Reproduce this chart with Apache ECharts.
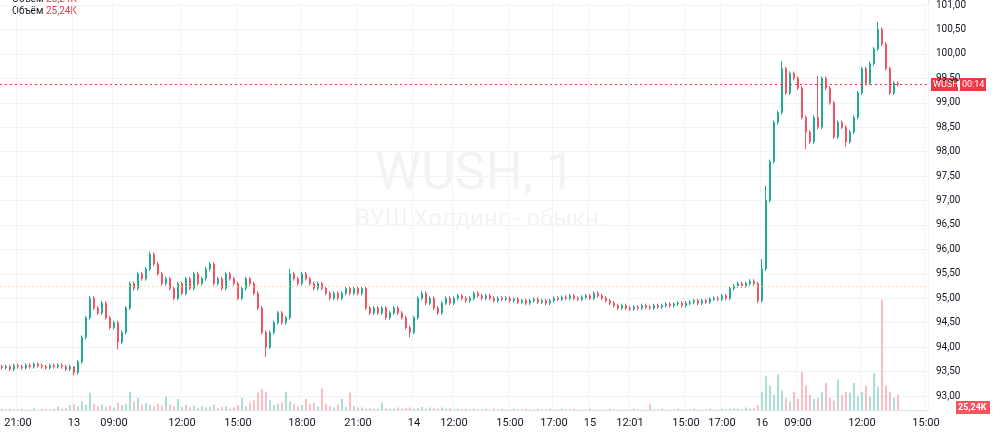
<!DOCTYPE html>
<html><head><meta charset="utf-8">
<script src="https://cdn.jsdelivr.net/npm/echarts@6/dist/echarts.min.js"></script>
<style>html,body{margin:0;padding:0;background:#fff}#c{width:1000px;height:437px}</style>
</head><body><div id="c"></div>
<script>
const closes = [93.58,93.6,93.55,93.62,93.6,93.58,93.63,93.6,93.65,93.62,93.6,93.58,93.62,93.6,93.63,93.6,93.55,93.6,
93.48,93.7,94.2,94.6,95.0,94.8,94.7,94.9,94.6,94.4,94.5,94.1,94.3,94.8,95.3,95.2,95.5,95.4,95.6,95.9,95.7,95.5,
95.3,95.4,95.2,95.0,95.3,95.1,95.4,95.2,95.5,95.3,95.4,95.6,95.7,95.3,95.4,95.2,95.5,95.4,95.3,95.0,
95.2,95.4,95.3,95.1,94.8,94.3,94.0,94.3,94.5,94.7,94.5,94.6,95.5,95.4,95.3,95.5,95.4,95.3,95.2,95.3,
95.2,95.1,95.0,95.1,95.0,95.1,95.2,95.1,95.2,95.1,95.2,94.8,94.7,94.8,94.7,94.8,94.6,94.7,94.8,94.7,
94.6,94.4,94.3,94.6,95.0,95.1,94.9,95.0,94.8,94.7,94.9,95.0,94.9,95.0,95.05,95.0,94.95,95.0,95.1,95.05,
95.0,95.05,95.0,94.95,95.0,94.98,95.0,94.95,94.98,94.92,94.95,94.9,94.95,94.98,94.92,94.95,94.9,94.95,95.0,94.98,
95.02,95.0,95.05,95.0,94.98,95.02,95.05,95.0,95.1,95.05,95.0,94.95,94.9,94.85,94.8,94.85,94.8,94.78,94.82,94.8,
94.85,94.82,94.8,94.85,94.82,94.85,94.88,94.85,94.88,94.9,94.85,94.9,94.92,94.95,94.9,94.95,94.92,94.98,95.0,94.98,
95.05,95.0,95.2,95.25,95.3,95.25,95.3,95.35,95.3,94.95,
95.6,97.0,97.8,98.6,98.8,99.7,99.2,99.6,99.5,99.3,98.7,98.4,98.2,98.7,98.5,99.5,99.3,99.0,98.3,98.6,
98.5,98.2,98.4,98.7,99.2,99.7,99.4,99.8,100.1,100.5,100.2,99.7,99.2,99.4,99.38];
const openFirst = 93.6;
const highOverrides = {18:93.5,22:95.05,37:95.95,52:95.75,72:95.6,195:99.85,219:100.65,190:95.8,191:97.3,204:99.55};
const lowOverrides = {18:93.42,29:93.95,66:93.8,102:94.2,189:94.9,201:98.05,211:98.1,231:99.05};
const volumes = [2,1,2,1,1,2,1,1,3,1,2,1,1,2,6,2,3,8,
10,6,14,8,28,10,6,9,5,7,4,12,8,10,30,14,20,9,12,8,6,10,
7,22,9,6,18,5,8,4,7,3,6,4,5,9,3,5,6,2,4,8,
20,6,12,16,28,34,30,16,8,10,12,30,14,10,6,8,18,10,12,6,
35,10,6,4,9,18,5,28,6,4,4,2,3,2,2,12,3,2,2,4,
2,3,4,2,3,5,2,4,3,2,4,2,3,1,2,1,2,1,2,1,
1,2,1,3,1,2,1,1,2,1,1,2,1,1,2,1,1,2,1,1,
2,1,1,2,1,1,1,2,1,1,1,1,2,1,1,1,1,1,2,1,
1,1,10,1,1,2,1,1,1,2,1,1,1,2,1,1,1,2,1,1,
2,1,2,3,2,1,4,2,3,8,
30,55,40,25,58,32,20,14,30,18,62,40,25,18,20,30,44,20,15,50,
24,30,28,44,22,30,40,22,60,38,180,40,30,20,25];
const tickLabels = {4:'21:00',18:'13',28:'09:00',45:'12:00',59:'15:00',75:'18:00',89:'21:00',103:'14',113:'12:00',127:'15:00',138:'17:00',147:'15',157:'12:01',171:'15:00',180:'17:00',190:'16',199:'09:00',215:'12:00',231:'15:00'};
const NCAT = 232;
const cats = [], candles = [], vols = [];
for (let i = 0; i < NCAT; i++) cats.push('c' + i);
for (let i = 0; i < closes.length; i++) {
  const o = i === 0 ? openFirst : closes[i-1], c = closes[i];
  const h = highOverrides[i] !== undefined ? Math.max(highOverrides[i], o, c) : Math.max(o, c) + 0.04;
  const l = lowOverrides[i] !== undefined ? Math.min(lowOverrides[i], o, c) : Math.min(o, c) - 0.04;
  candles.push([o, c, l, h]);
  vols.push({value: volumes[i], itemStyle: {color: c >= o ? 'rgba(34,171,148,0.5)' : 'rgba(247,82,95,0.5)'}});
}
const UP = '#22ab94', DOWN = '#f7525f';
const showTick = (i) => tickLabels[i] !== undefined;
const chart = echarts.init(document.getElementById('c'));
chart.setOption({
  animation: false,
  grid: [{left: 0, right: 72, top: 3, bottom: 41}, {left: 0, right: 72, top: 3, bottom: 27}],
  xAxis: [
    {type: 'category', data: cats, gridIndex: 0, boundaryGap: true,
     axisLine: {show: false}, axisTick: {show: false}, axisLabel: {show: false}, splitLine: {show: false}},
    {type: 'category', data: cats, gridIndex: 1, boundaryGap: true,
     axisLine: {lineStyle: {color: '#e0e3eb'}}, axisTick: {show: false},
     axisLabel: {interval: (i) => showTick(i), formatter: (v, i) => tickLabels[i] || '', color: '#131722', fontSize: 11, fontFamily: 'Roboto', margin: 8},
     splitLine: {show: true, interval: (i) => showTick(i), lineStyle: {color: '#f0f3fa'}}}
  ],
  yAxis: [
    {type: 'value', position: 'right', min: 93, max: 101, interval: 0.5, gridIndex: 0,
     axisLine: {show: false}, axisTick: {show: false},
     axisLabel: {formatter: (v) => v.toFixed(2).replace('.', ','), color: '#131722', fontSize: 10, fontFamily: 'Roboto', margin: 8},
     splitLine: {lineStyle: {color: '#f0f3fa'}}},
    {type: 'value', gridIndex: 1, min: 0, max: 665, show: false, position: 'right'}
  ],
  series: [
    {type: 'bar', xAxisIndex: 1, yAxisIndex: 1, data: vols, barWidth: 1.5, z: 1},
    {type: 'candlestick', data: candles, barWidth: 2.2, z: 3,
     itemStyle: {color: UP, color0: DOWN, borderColor: UP, borderColor0: DOWN, borderWidth: 1},
     markLine: {symbol: 'none', silent: true, label: {show: false},
       data: [{yAxis: 99.38, lineStyle: {color: '#f23645', type: [2, 3], width: 1}},
              {yAxis: 95.25, lineStyle: {color: '#ffd8a8', type: [2, 2], width: 1}}]}}
  ],
  graphic: [
    {type: 'line', shape: {x1: 928.5, y1: 0, x2: 928.5, y2: 410}, style: {stroke: '#e0e3eb'}},
    {type: 'text', left: 375, top: 150, style: {text: 'WUSH, 1', fontSize: 52, fill: 'rgba(19,23,34,0.05)', fontFamily: 'Roboto'}},
    {type: 'text', left: 355, top: 208, style: {text: 'ВУШ Холдинг - обыкн.', fontSize: 24, fill: 'rgba(19,23,34,0.05)', fontFamily: 'Roboto'}},
    {type: 'text', left: 12, top: -6, style: {text: 'Объём', fontSize: 10, fill: '#131722', fontFamily: 'Roboto'}},
    {type: 'text', left: 46, top: -6, style: {text: '25,24K', fontSize: 10, fill: '#f23645', fontFamily: 'Roboto'}},
    {type: 'text', left: 12, top: 6, style: {text: 'Объём', fontSize: 10, fill: '#131722', fontFamily: 'Roboto'}},
    {type: 'text', left: 46, top: 6, style: {text: '25,24K', fontSize: 10, fill: '#f23645', fontFamily: 'Roboto'}},
    {type: 'rect', left: 931, top: 78, shape: {width: 27, height: 13}, style: {fill: '#f23645'}},
    {type: 'text', left: 933, top: 80, style: {text: 'WUSH', fontSize: 9, fill: '#fff', fontFamily: 'Roboto'}},
    {type: 'rect', left: 960, top: 78, shape: {width: 26, height: 13}, style: {fill: '#f23645'}},
    {type: 'text', left: 962, top: 80, style: {text: '00:14', fontSize: 9, fill: '#fff', fontFamily: 'Roboto'}},
    {type: 'rect', left: 956, top: 401, shape: {width: 34, height: 13}, style: {fill: '#f7525f'}},
    {type: 'text', left: 958, top: 403, style: {text: '25,24K', fontSize: 9, fill: '#fff', fontFamily: 'Roboto', fontWeight: 'bold'}}
  ]
});
</script></body></html>
